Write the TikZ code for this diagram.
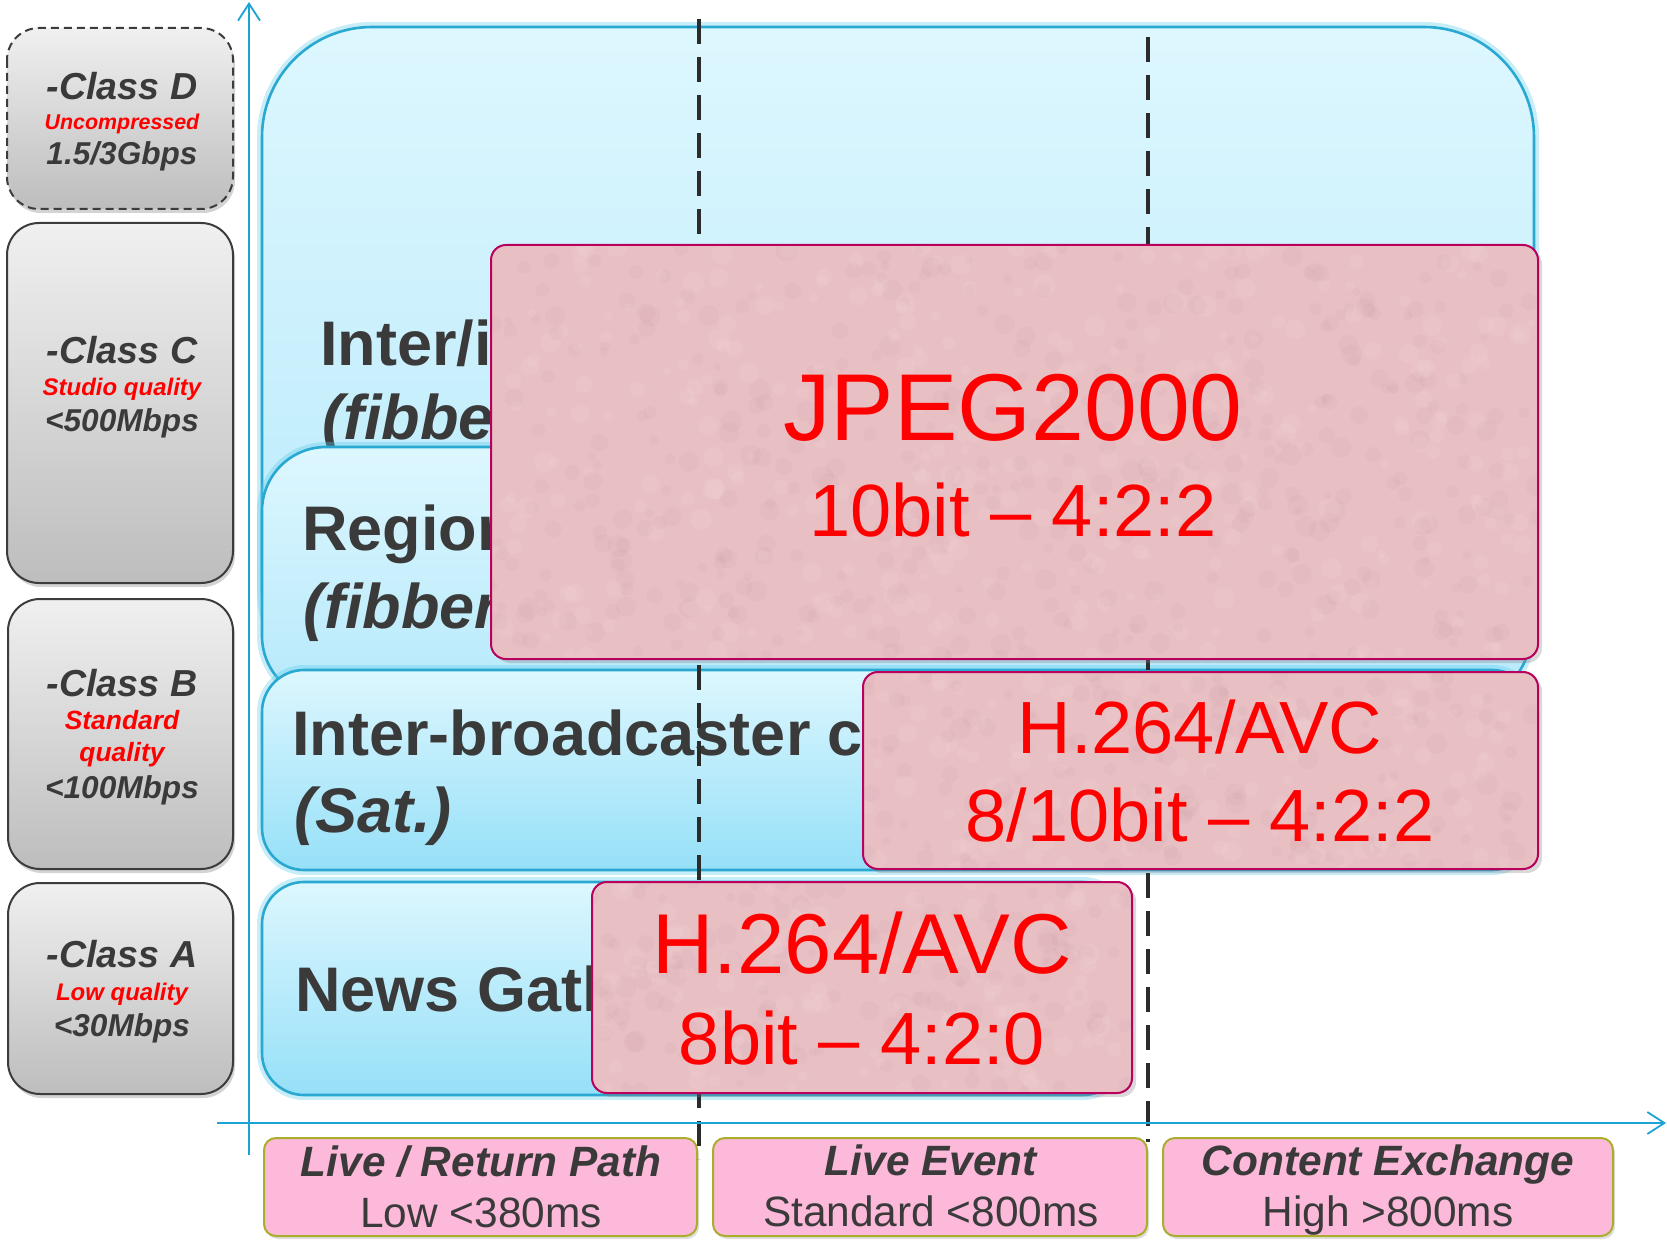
\documentclass[tikz,border=0pt]{standalone}
\usepackage{fontspec}
\setmainfont{Liberation Sans}
\usetikzlibrary{arrows.meta,shadows}
\definecolor{txtgray}{HTML}{3A3A3A}
\definecolor{redtxt}{HTML}{FF0000}
\definecolor{clsTop}{HTML}{F0F0F0}
\definecolor{clsBot}{HTML}{BDBDBD}
\definecolor{clsLine}{HTML}{3C3C3C}
\definecolor{bTop}{HTML}{DDF7FE}
\definecolor{bBot}{HTML}{B6E9FB}
\definecolor{bBotB}{HTML}{96E0F8}
\definecolor{bLine}{HTML}{29A9D1}
\definecolor{bGlow}{HTML}{5CCBEA}
\definecolor{pinkFill}{HTML}{E8C0C4}
\definecolor{pinkDark}{HTML}{C9989E}
\definecolor{pinkLight}{HTML}{F6DADC}
\definecolor{pinkLine}{HTML}{B8005C}
\definecolor{lblFill}{HTML}{FDB9DA}
\definecolor{lblLine}{HTML}{A9AE2C}
\definecolor{dashC}{HTML}{2B2B2B}
\definecolor{axisC}{HTML}{1CA3D6}
\newcommand\fsz[1]{\fontsize{#1}{#1}\selectfont}
\begin{document}
\begin{tikzpicture}[x=0.5pt,y=-0.5pt,
  classbox/.style={rounded corners=16pt, top color=clsTop, bottom color=clsBot, draw=clsLine, line width=1pt,
     drop shadow={opacity=0.35,shadow xshift=1pt,shadow yshift=-2pt}},
  bluebox/.style={draw=bLine, line width=1.3pt,
     preaction={draw=bGlow, line width=5pt, opacity=0.35}},
  pinkbox/.style={fill=pinkFill, rounded corners=7.5pt,
     drop shadow={opacity=0.3,shadow xshift=2pt,shadow yshift=-2pt}},
  pinkedge/.style={draw=pinkLine, line width=1pt, rounded corners=7.5pt},
  lblbox/.style={fill=lblFill, draw=lblLine, line width=1pt, rounded corners=6pt,
     drop shadow={opacity=0.25,shadow xshift=1pt,shadow yshift=-1.5pt}},
  txt/.style={anchor=base, inner sep=0pt},
  clstitle/.style={txt, text=txtgray, font=\fsz{18.8}\bfseries\itshape},
  clsval/.style={txt, text=txtgray, font=\fsz{15.8}\bfseries\itshape},
  clsred/.style={txt, text=redtxt, font=\bfseries\itshape},
  rowlbl/.style={anchor=base west, inner sep=0pt, text=txtgray, font=\fsz{31.5}\bfseries},
  rowital/.style={rowlbl, font=\fsz{31.5}\bfseries\itshape},
  codec/.style={txt, text=redtxt},
  lbltop/.style={txt, text=txtgray, font=\fsz{21.2}\bfseries\itshape},
  lblbot/.style={txt, text=txtgray, font=\fsz{21.2}},
  dashline/.style={draw=dashC, line width=1.7pt, dash pattern=on 12.5pt off 6.5pt},
  axisline/.style={draw=axisC, line width=0.9pt}
]
\useasboundingbox (0,0) rectangle (1667,1241);

% ---------- blue rows ----------
\path[bluebox, top color=bTop, bottom color=bBot, rounded corners=55pt] (262,27) rectangle (1534,700);
\node[rowlbl] (r1a) at (320,365.5) {Inter/intra};
\node[rowital] (r1b) at (322,440) {(fibber)};

\path[bluebox, top color=bTop, bottom color=bBot, rounded corners=32pt] (262,447) rectangle (1530,700);
\node[rowlbl] (r2a) at (302,551) {Regional};
\node[rowital] (r2b) at (303,628.5) {(fibber)};

\path[bluebox, top color=bTop, bottom color=bBotB, rounded corners=21pt] (262,670) rectangle (1534,870);
\node[rowlbl] (r3a) at (292,755) {Inter-broadcaster co};
\node[rowital] (r3b) at (294,832) {(Sat.)};

\path[bluebox, top color=bTop, bottom color=bBotB, rounded corners=21pt] (262,882) rectangle (1125,1095);
\node[rowlbl] (r4a) at (295,1011) {News Gath};

% ---------- latency label boxes ----------
\path[lblbox] (264,1138) rectangle (697,1236);
\node[lbltop] (l1a) at (481,1176.5) {Live / Return Path};
\node[lblbot] (l1b) at (481,1227) {Low <380ms};
\path[lblbox] (713,1138) rectangle (1147,1236);
\node[lbltop] (l2a) at (931,1175) {Live Event};
\node[lblbot] (l2b) at (931,1226) {Standard <800ms};
\path[lblbox] (1163,1138) rectangle (1613,1236);
\node[lbltop] (l3a) at (1388,1175) {Content Exchange};
\node[lblbot] (l3b) at (1388,1226) {High >800ms};

% ---------- dashed separators ----------
\coordinate (d1t) at (699,19);
\coordinate (d1b) at (699,1159);
\coordinate (d2t) at (1148,37);
\coordinate (d2b) at (1148,1142);
\draw[dashline] (d1t) -- (d1b);
\draw[dashline] (d2t) -- (d2b);

% ---------- codec boxes ----------
\pgfmathsetseed{7}
% JPEG2000
\path[pinkbox] (491,245) rectangle (1538,659);
\begin{scope}
\clip[rounded corners=7.5pt] (491,245) rectangle (1538,659);
\foreach \i in {1,...,420}{\fill[pinkDark, opacity=0.10] ({491+rnd*1047},{245+rnd*414}) circle ({2pt+rnd*3.5pt});}
\foreach \i in {1,...,320}{\fill[pinkLight, opacity=0.15] ({491+rnd*1047},{245+rnd*414}) circle ({2pt+rnd*3.5pt});}
\end{scope}
\path[pinkedge] (491,245) rectangle (1538,659);
\node[codec, font=\fsz{47.5}] (c1a) at (1013,441) {JPEG2000};
\node[codec, font=\fsz{37}] (c1b) at (1013,537) {10bit – 4:2:2};

% H.264 8/10bit
\path[pinkbox] (863,672) rectangle (1538,869);
\begin{scope}
\clip[rounded corners=7.5pt] (863,672) rectangle (1538,869);
\foreach \i in {1,...,150}{\fill[pinkDark, opacity=0.10] ({863+rnd*675},{672+rnd*197}) circle ({2pt+rnd*3.5pt});}
\foreach \i in {1,...,110}{\fill[pinkLight, opacity=0.15] ({863+rnd*675},{672+rnd*197}) circle ({2pt+rnd*3.5pt});}
\end{scope}
\path[pinkedge] (863,672) rectangle (1538,869);
\node[codec, font=\fsz{37}] (c2a) at (1200,753) {H.264/AVC};
\node[codec, font=\fsz{37}] (c2b) at (1200,841) {8/10bit – 4:2:2};

% H.264 8bit
\path[pinkbox] (592,882) rectangle (1132,1093);
\begin{scope}
\clip[rounded corners=7.5pt] (592,882) rectangle (1132,1093);
\foreach \i in {1,...,130}{\fill[pinkDark, opacity=0.10] ({592+rnd*540},{882+rnd*211}) circle ({2pt+rnd*3.5pt});}
\foreach \i in {1,...,100}{\fill[pinkLight, opacity=0.15] ({592+rnd*540},{882+rnd*211}) circle ({2pt+rnd*3.5pt});}
\end{scope}
\path[pinkedge] (592,882) rectangle (1132,1093);
\node[codec, font=\fsz{42.5}] (c3a) at (862,973.5) {H.264/AVC};
\node[codec, font=\fsz{37}] (c3b) at (862,1064.5) {8bit – 4:2:0};

% ---------- axes ----------
\coordinate (yb) at (249,1155);
\coordinate (yt) at (249,2);
\coordinate (xl) at (217,1123);
\coordinate (xr) at (1666,1123);
\draw[axisline, -{Straight Barb[length=8.5pt,width=11pt]}] (yb) -- (yt);
\draw[axisline, -{Straight Barb[length=8.5pt,width=11pt]}] (xl) -- (xr);

% ---------- class boxes ----------
\path[classbox, dash pattern=on 4pt off 2.5pt] (7,28) rectangle (233,209);
\node[clstitle] (cda) at (122,100) {-Class D};
\node[clsred, font=\fsz{10.7}\bfseries\itshape] (cdb) at (122,130) {Uncompressed};
\node[clsval] (cdc) at (122,164.5) {1.5/3Gbps};

\path[classbox] (7,223) rectangle (233,583);
\node[clstitle] (cca) at (122,363.5) {-Class C};
\node[clsred, font=\fsz{12}\bfseries\itshape] (ccb) at (122,396) {Studio quality};
\node[clsval] (ccc) at (122,431.5) {<500Mbps};

\path[classbox] (8,599) rectangle (233,869);
\node[clstitle] (cba) at (122,696) {-Class B};
\node[clsred, font=\fsz{13.2}\bfseries\itshape] (cbb) at (122,729.5) {Standard};
\node[clsred, font=\fsz{13.2}\bfseries\itshape] (cbc) at (122,761) {quality};
\node[clsval] (cbd) at (122,798) {<100Mbps};

\path[classbox] (8,883) rectangle (233,1094);
\node[clstitle] (caa) at (122,967) {-Class A};
\node[clsred, font=\fsz{12}\bfseries\itshape] (cab) at (122,1000) {Low quality};
\node[clsval] (cac) at (122,1036.5) {<30Mbps};
\end{tikzpicture}
\end{document}
